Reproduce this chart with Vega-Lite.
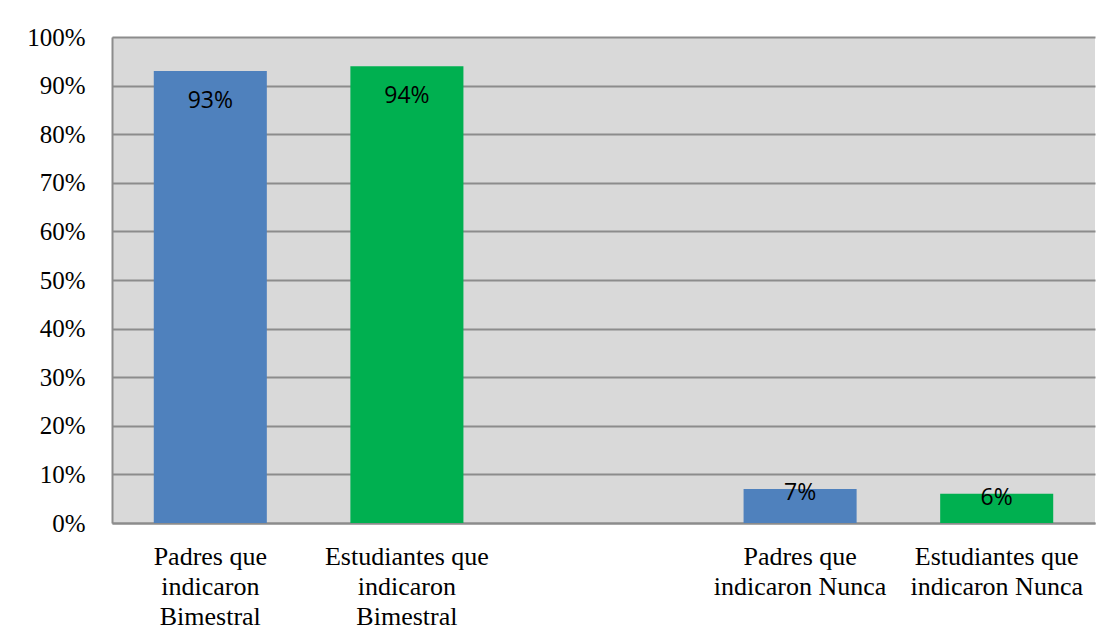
{
  "$schema": "https://vega.github.io/schema/vega-lite/v6.json",
  "width": 983,
  "height": 486,
  "autosize": {"type": "none"},
  "padding": {"left": 112, "top": 37, "right": 25, "bottom": 121},
  "background": "white",
  "config": {
    "view": {"fill": "#d9d9d9", "stroke": null}
  },
  "data": {
    "values": [
      {"grupo": "Padres que|indicaron|Bimestral", "serie": "Padres", "valor": 0.93},
      {"grupo": "Estudiantes que|indicaron|Bimestral", "serie": "Estudiantes", "valor": 0.94},
      {"grupo": "Padres que|indicaron Nunca", "serie": "Padres", "valor": 0.07},
      {"grupo": "Estudiantes que|indicaron Nunca", "serie": "Estudiantes", "valor": 0.06}
    ]
  },
  "encoding": {
    "x": {
      "field": "grupo",
      "type": "nominal",
      "sort": null,
      "scale": {
        "domain": ["Padres que|indicaron|Bimestral", "Estudiantes que|indicaron|Bimestral", " ", "Padres que|indicaron Nunca", "Estudiantes que|indicaron Nunca"],
        "paddingInner": 0.425,
        "paddingOuter": 0.2125
      },
      "axis": {
        "title": null,
        "labelAngle": 0,
        "labelExpr": "split(datum.label, '|')",
        "labelFont": "Liberation Serif",
        "labelFontSize": 26,
        "labelLineHeight": 30,
        "labelColor": "#000000",
        "labelPadding": 20,
        "ticks": false,
        "domainColor": "#8c8c8c",
        "domainWidth": 2,
        "labelLimit": 400
      }
    },
    "y": {
      "field": "valor",
      "type": "quantitative",
      "scale": {"domain": [0, 1]},
      "axis": {
        "title": null,
        "values": [0, 0.1, 0.2, 0.3, 0.4, 0.5, 0.6, 0.7, 0.8, 0.9, 1],
        "format": ".0%",
        "labelFont": "Liberation Serif",
        "labelFontSize": 25,
        "labelColor": "#000000",
        "labelPadding": 27,
        "ticks": false,
        "grid": true,
        "gridColor": "#8c8c8c",
        "gridWidth": 2,
        "domainColor": "#8c8c8c",
        "domainWidth": 2
      }
    }
  },
  "layer": [
    {
      "mark": {"type": "bar"},
      "encoding": {
        "color": {
          "field": "serie",
          "type": "nominal",
          "scale": {"domain": ["Padres", "Estudiantes"], "range": ["#4f81bd", "#00b050"]},
          "legend": null
        }
      }
    },
    {
      "transform": [{"filter": "datum.valor > 0.5"}],
      "mark": {"type": "text", "baseline": "middle", "dy": 30, "font": "Open Sans", "fontSize": 23, "color": "#000000"},
      "encoding": {
        "text": {"field": "valor", "type": "quantitative", "format": ".0%"}
      }
    },
    {
      "transform": [{"filter": "datum.valor <= 0.5"}],
      "mark": {"type": "text", "baseline": "middle", "dy": 4, "font": "Open Sans", "fontSize": 23, "color": "#000000"},
      "encoding": {
        "text": {"field": "valor", "type": "quantitative", "format": ".0%"}
      }
    }
  ]
}
